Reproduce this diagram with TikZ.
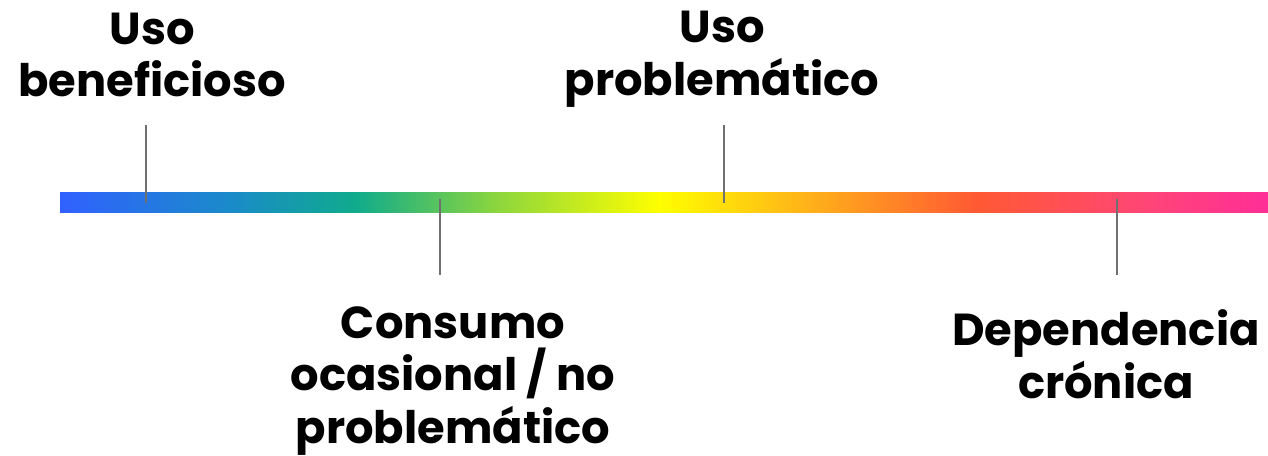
\documentclass[tikz,border=0pt]{standalone}
\usepackage{fontspec}
\setmainfont{Poppins}
\usepackage{xcolor}
\usepackage{tikz}
\usetikzlibrary{positioning}

\definecolor{tickgray}{RGB}{112,112,112}
\pgfdeclarehorizontalshading{spectrum}{100bp}{%
  rgb(0bp)=(0.19,0.38,1);
  rgb(25bp)=(0.19,0.38,1);
  rgb(32.3bp)=(0.10,0.55,0.78);
  rgb(37.2bp)=(0.06,0.67,0.55);
  rgb(43.1bp)=(0.55,0.84,0.24);
  rgb(49.8bp)=(1,1,0);
  rgb(57.3bp)=(1,0.63,0.12);
  rgb(62.9bp)=(1,0.35,0.20);
  rgb(70.1bp)=(1,0.27,0.47);
  rgb(75bp)=(1,0.18,0.59);
  rgb(100bp)=(1,0.18,0.59)}

\begin{document}
\begin{tikzpicture}[x=0.02cm, y=-0.02cm,
    stage/.style={font=\bfseries\fontsize{25.5}{30}\selectfont, align=center, inner sep=0pt},
    tick/.style={draw=tickgray, line width=1.1pt}]
        \useasboundingbox (0, 0) rectangle (1268, 456);

        % Spectrum bar
        \shade[shading=spectrum] (60, 192) rectangle (1268, 212);

        % Labels above the bar
        \node[stage] (ben) at (152, 55) {Uso\\beneficioso};
        \node[stage] (prob) at (722, 59) {Uso\\problemático};

        % Labels below the bar
        \node[stage] (ocas) at (453, 381) {Consumo\\ocasional / no\\problemático};
        \node[stage] (dep) at (1106, 354) {Dependencia\\crónica};

        % Tick ends
        \coordinate (ben top) at (146, 125);
        \coordinate (ben bar) at (146, 203);
        \coordinate (prob top) at (724, 125);
        \coordinate (prob bar) at (724, 203);
        \coordinate (ocas bot) at (440, 275);
        \coordinate (ocas bar) at (440, 199);
        \coordinate (dep bot) at (1117, 275);
        \coordinate (dep bar) at (1117, 199);

        % Ticks
        \foreach \a/\b in {ben top/ben bar, prob top/prob bar, ocas bar/ocas bot, dep bar/dep bot} {
            \draw[tick] (\a) -- (\b);
        }
    \end{tikzpicture}
\end{document}
